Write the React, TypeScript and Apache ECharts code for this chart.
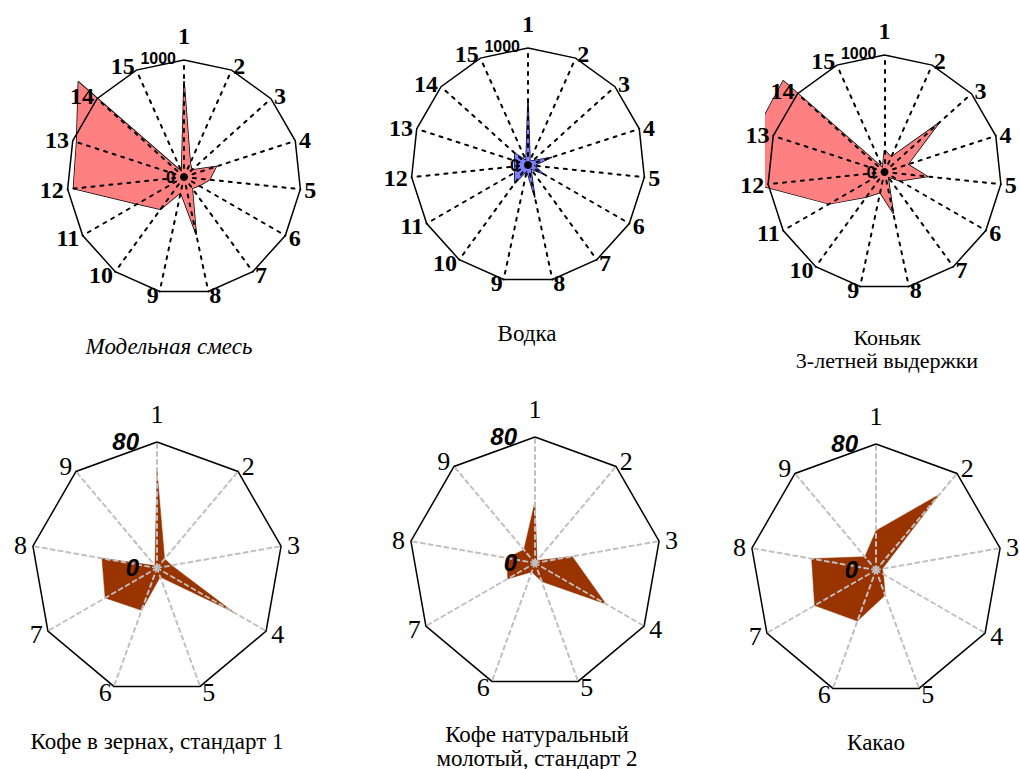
import React, { useEffect, useRef } from "react";
import * as echarts from "echarts";

const topAxes = ["1", "2", "3", "4", "5", "6", "7", "8", "9", "10", "11", "12", "13", "14", "15"];
const bottomAxes = ["1", "2", "3", "4", "5", "6", "7", "8", "9"];

const topMax = 1000;
const bottomMax = 80;

const mixValues = [820, 130, 90, 290, 220, 150, 120, 500, 135, 340, 460, 950, 965, 1215, 50];
const vodkaValues = [560, 40, 50, 210, 50, 150, 40, 280, 50, 190, 130, 112, 120, 150, 40];
const cognacValues = [185, 140, 620, 210, 370, 150, 50, 360, 180, 265, 545, 1080, 1150, 1165, 40];

const coffeeBeanValues = [62, 7.5, 9.5, 56, 6, 28.6, 38, 35.5, 2];
const coffeeGroundValues = [39, 2, 24, 52, 12.5, 6, 20, 18, 11];
const cocoaValues = [25, 62.5, 4, 5.5, 17, 34.5, 45, 41.5, 11];

const topTitles = [["Модельная смесь"], ["Водка"], ["Коньяк", "3-летней выдержки"]];
const bottomTitles = [["Кофе в зернах, стандарт 1"], ["Кофе натуральный", "молотый, стандарт 2"], ["Какао"]];

const SERIF = "Times New Roman, Liberation Serif, serif";
const SANS = "Arial, Liberation Sans, sans-serif";

// ECharts lays radar indicators counter-clockwise; reorder so they run clockwise.
const reorder = <T,>(arr: T[]): T[] => [arr[0], ...arr.slice(1).reverse()];

export default function App() {
  const ref = useRef<HTMLDivElement>(null);

  useEffect(() => {
    if (!ref.current) return;
    const chart = echarts.init(ref.current, undefined, { renderer: "svg" });

    const topCenters = [[184, 177], [528, 165], [884.5, 172]];
    const topR = 117;
    const bottomCenters = [[157, 568], [535, 563], [876, 570]];
    const bottomR = 126;

    const topSeriesData = [
      { values: mixValues, fill: "#ff8080", border: "#000000" },
      { values: vodkaValues, fill: "#8080ff", border: "#000033" },
      { values: cognacValues, fill: "#ff8080", border: "#000000" },
    ];
    const bottomSeriesData = [coffeeBeanValues, coffeeGroundValues, cocoaValues];

    const radars: any[] = [];
    const series: any[] = [];
    const graphics: any[] = [];

    topCenters.forEach((c, i) => {
      radars.push({
        center: c,
        radius: topR,
        startAngle: 90,
        shape: "polygon",
        splitNumber: 1,
        z: 10,
        nameGap: 4,
        indicator: reorder(topAxes).map((name) => ({ name, min: 0, max: topMax })),
        axisName: {
          color: "#000",
          fontFamily: SERIF,
          fontSize: 24,
          fontWeight: "bold",
          formatter: (n: string) => (n === "1" ? "{top|1}" : n),
          rich: { top: { fontFamily: SERIF, fontSize: 24, fontWeight: "bold", color: "#000", padding: [0, 0, 8, 0] } },
        },
        splitLine: { lineStyle: { color: "#000", width: 1.5 } },
        splitArea: { show: false },
        axisLine: { lineStyle: { color: "#000", width: 2, type: [3, 6] } },
        axisTick: { show: false },
        axisLabel: { show: false },
      });
      const d = topSeriesData[i];
      series.push({
        type: "radar",
        radarIndex: i,
        z: 2,
        symbol: "none",
        data: [
          {
            value: reorder(d.values),
            areaStyle: { color: d.fill, opacity: 1 },
            lineStyle: { color: d.border, width: 1.5 },
          },
        ],
      });
      graphics.push({
        type: "text",
        z: 20,
        x: c[0] - 8,
        y: c[1] - topR - 1.5,
        style: { text: String(topMax), align: "right", verticalAlign: "middle", fontFamily: SANS, fontSize: 16, fontWeight: "bold", fill: "#000" },
      });
      graphics.push({
        type: "text",
        z: 20,
        x: c[0] - 8.5,
        y: c[1],
        style: { text: "0", align: "right", verticalAlign: "middle", fontFamily: SANS, fontSize: 17, fontWeight: "bold", fill: "#000" },
      });
    });

    bottomCenters.forEach((c, i) => {
      radars.push({
        center: c,
        radius: bottomR,
        startAngle: 90,
        shape: "polygon",
        splitNumber: 1,
        z: 10,
        nameGap: 6,
        indicator: reorder(bottomAxes).map((name) => ({ name, min: 0, max: bottomMax })),
        axisName: {
          color: "#000",
          fontFamily: SERIF,
          fontSize: 26,
          formatter: (n: string) => (n === "1" ? "{top|1}" : n),
          rich: { top: { fontFamily: SERIF, fontSize: 26, color: "#000", padding: [0, 0, 9, 0] } },
        },
        splitLine: { lineStyle: { color: "#000", width: 1.5 } },
        splitArea: { show: false },
        axisLine: { lineStyle: { color: "#c0c0c0", width: 2, type: [4, 4] } },
        axisTick: { show: false },
        axisLabel: { show: false },
      });
      series.push({
        type: "radar",
        radarIndex: 3 + i,
        z: 2,
        symbol: "none",
        data: [
          {
            value: reorder(bottomSeriesData[i]),
            areaStyle: { color: "#993300", opacity: 1 },
            lineStyle: { color: "#993300", width: 0.5 },
          },
        ],
      });
      graphics.push({
        type: "text",
        z: 20,
        x: c[0] - 18,
        y: c[1] - bottomR - 1,
        style: { text: String(bottomMax), align: "right", verticalAlign: "middle", fontFamily: SANS, fontSize: 24, fontWeight: "bold", fontStyle: "italic", fill: "#000" },
      });
      graphics.push({
        type: "text",
        z: 20,
        x: c[0] - 18,
        y: c[1] - 1,
        style: { text: "0", align: "right", verticalAlign: "middle", fontFamily: SANS, fontSize: 24, fontWeight: "bold", fontStyle: "italic", fill: "#000" },
      });
    });

    // white mask: the original cognac picture was cropped on its left side
    graphics.push({
      type: "rect",
      z: 5,
      shape: { x: 700, y: 70, width: 65, height: 140 },
      style: { fill: "#fff" },
    });

    const titlePos = [
      [[169, 346]],
      [[527, 333]],
      [[887, 337], [887, 360]],
    ];
    topTitles.forEach((lines, i) => {
      lines.forEach((t, j) => {
        graphics.push({
          type: "text",
          z: 20,
          x: titlePos[i][j][0],
          y: titlePos[i][j][1],
          style: {
            text: t,
            align: "center",
            verticalAlign: "middle",
            fontFamily: SERIF,
            fontSize: i === 2 ? 22 : 23,
            fontStyle: i === 0 ? "italic" : "normal",
            fill: "#000",
          },
        });
      });
    });
    const bottomTitlePos = [
      [[157, 741]],
      [[537, 734], [537, 758]],
      [[876, 742]],
    ];
    bottomTitles.forEach((lines, i) => {
      lines.forEach((t, j) => {
        graphics.push({
          type: "text",
          z: 20,
          x: bottomTitlePos[i][j][0],
          y: bottomTitlePos[i][j][1],
          style: { text: t, align: "center", verticalAlign: "middle", fontFamily: SERIF, fontSize: 23, fill: "#000" },
        });
      });
    });

    chart.setOption({
      animation: false,
      backgroundColor: "#fff",
      radar: radars,
      series,
      graphic: graphics,
    });

    return () => chart.dispose();
  }, []);

  return <div ref={ref} style={{ position: "absolute", left: 0, top: 0, width: 1020, height: 769 }} />;
}
